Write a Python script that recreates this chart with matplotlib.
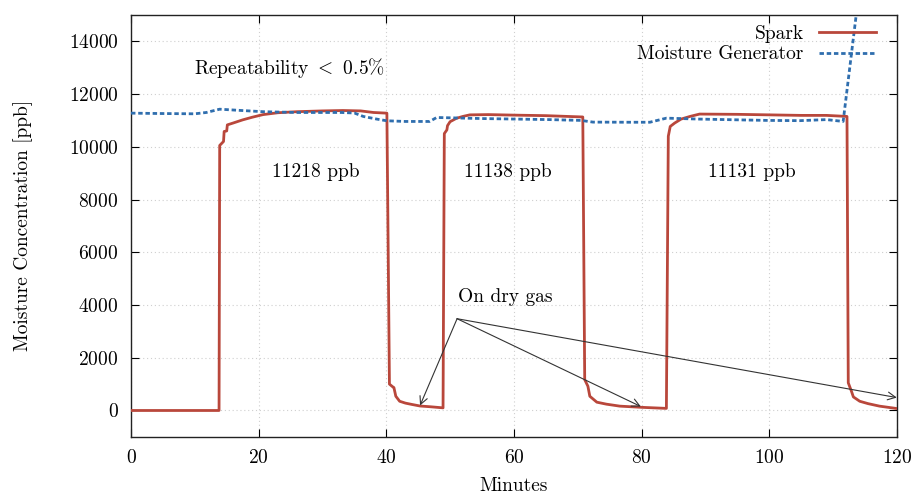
"""
    Spark sensor vs. moisture generator, repeatability run.
"""

import matplotlib
matplotlib.use('Agg')
import matplotlib.pyplot as plt

# spark readings (minutes, ppb)
spark_min = [0, 13.8, 13.9, 14.5, 14.6, 15.0, 15.1, 16.0, 17.5, 19.0, 20.7, 23.0, 26.0,
             30.0, 33.2, 36.0, 38.0, 40.1, 40.5, 41.0, 41.2, 41.5, 42.1, 43.0, 44.0,
             45.3, 47.0, 48.9, 49.1, 49.5, 49.6, 50.0, 51.0, 52.0, 53.1, 56.0, 60.0,
             65.0, 70.8, 71.1, 71.6, 71.9, 73.0, 74.5, 76.6, 80.0, 83.9, 84.2, 84.5,
             85.2, 86.2, 87.6, 89.1, 95.0, 100.0, 105.0, 109.0, 112.2, 112.4, 112.9,
             113.2, 114.2, 115.5, 117.3, 120.0]
spark_ppb = [0, 0, 10050, 10200, 10580, 10600, 10830, 10900, 11020, 11120, 11220,
             11290, 11330, 11360, 11375, 11360, 11300, 11275, 1000, 900, 870, 540,
             350, 280, 230, 170, 140, 100, 10500, 10640, 10800, 10950, 11080, 11150,
             11210, 11220, 11200, 11180, 11130, 1170, 920, 540, 315, 240, 165, 120,
             80, 10400, 10770, 10900, 11050, 11150, 11240, 11230, 11210, 11190,
             11190, 11150, 1050, 730, 515, 350, 260, 165, 75]

# moisture generator setpoint trace
gen_min = [0, 5.0, 10.0, 11.8, 13.9, 17.0, 20.7, 26.0, 33.0, 35.0, 36.4, 38.5, 40.1,
           43.0, 46.8, 47.9, 55.0, 65.6, 70.5, 72.4, 78.0, 81.3, 83.9, 89.0, 99.6,
           104.8, 109.0, 111.6, 114.0]
gen_ppb = [11275, 11260, 11250, 11300, 11425, 11380, 11330, 11300, 11300, 11280,
           11150, 11050, 10985, 10960, 10960, 11110, 11070, 11030, 11000, 10935,
           10930, 10930, 11085, 11050, 11000, 10990, 11030, 10960, 15700]

x_ticks = [0, 20, 40, 60, 80, 100, 120]
y_ticks = [0, 2000, 4000, 6000, 8000, 10000, 12000, 14000]

plateau_labels = ['11218 ppb', '11138 ppb', '11131 ppb']
plateau_x = [29.0, 59.0, 97.3]
plateau_y = 9050

dry_text_xy = (51.1, 3480)
dry_targets = [(45.3, 190), (79.9, 150), (120.0, 490)]

spark_color = '#b9473b'
gen_color = '#2f6eae'


def main():
    plt.rcParams['font.family'] = ['cmr10']
    plt.rcParams['mathtext.fontset'] = 'cm'
    plt.rcParams['axes.formatter.use_mathtext'] = True
    plt.rcParams['font.size'] = 14

    fig = plt.figure(figsize=(9.16, 4.97), dpi=100)
    ax = fig.add_axes([0.143, 0.121, 0.836, 0.849])

    ax.plot(spark_min, spark_ppb, color=spark_color, lw=2.0, label='Spark', zorder=3)
    ax.plot(gen_min, gen_ppb, color=gen_color, lw=2.0, dashes=(1.6, 1.0),
            label='Moisture Generator', zorder=4)

    ax.set_xlim(0, 120)
    ax.set_ylim(-1000, 15000)
    ax.set_xticks(x_ticks)
    ax.set_yticks(y_ticks)
    ax.tick_params(direction='in', top=True, right=True, length=6, width=0.8,
                   labelsize=14, pad=9)
    ax.grid(True, color='#cfcfcf', linestyle=(0, (1, 2.5)), lw=0.8)
    for s in ax.spines.values():
        s.set_linewidth(1.0)
        s.set_color('#222222')

    ax.set_xlabel('Minutes', fontsize=14, labelpad=7)
    ax.set_ylabel('Moisture Concentration [ppb]', fontsize=14, labelpad=26)

    ax.text(24.9, 13000, r'Repeatability $<$ 0.5$\%$', ha='center', va='center', fontsize=14)
    for lbl, xx in zip(plateau_labels, plateau_x):
        ax.text(xx, plateau_y, lbl, ha='center', va='center', fontsize=14)
    ax.text(58.7, 4320, 'On dry gas', ha='center', va='center', fontsize=14)
    for tgt in dry_targets:
        ax.annotate('', xy=tgt, xytext=dry_text_xy,
                    arrowprops=dict(arrowstyle='->', color='#333333', lw=0.8,
                                    shrinkA=0, shrinkB=0, mutation_scale=14))

    leg = ax.legend(loc='upper right', frameon=False, markerfirst=False, fontsize=14,
                    handlelength=2.9, borderaxespad=0.1, labelspacing=0.15,
                    bbox_to_anchor=(0.985, 1.0))
    for t in leg.get_texts():
        t.set_ha('right')

    fig.savefig('out.png', dpi=100)


if __name__ == '__main__':
    main()
